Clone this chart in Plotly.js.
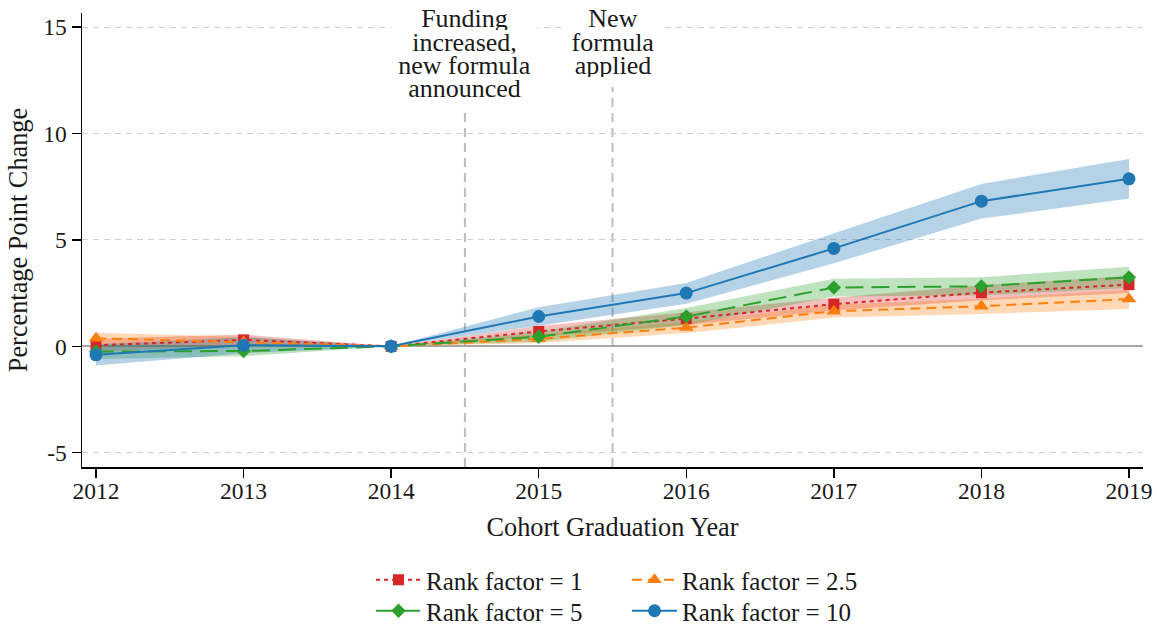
<!DOCTYPE html>
<html>
<head>
<meta charset="utf-8">
<script src="https://cdn.plot.ly/plotly-3.0.1.min.js"></script>
<style>html,body{margin:0;padding:0;background:#fff;}#chart{width:1157px;height:626px;}</style>
</head>
<body>
<div id="chart"></div>
<script>
// ---- data ----
const years = [2012, 2013, 2014, 2015, 2016, 2017, 2018, 2019];
const seriesNames = ['Rank factor = 1', 'Rank factor = 2.5', 'Rank factor = 5', 'Rank factor = 10'];

const rf1       = [0.05, 0.30, 0, 0.70, 1.30, 1.98, 2.52, 2.90];
const rf1Lower  = [-0.25, 0.05, 0, 0.45, 1.00, 1.68, 2.17, 2.50];
const rf1Upper  = [0.35, 0.55, 0, 0.95, 1.60, 2.28, 2.87, 3.30];

const rf25      = [0.38, 0.20, 0, 0.35, 0.88, 1.65, 1.88, 2.22];
const rf25Lower = [0.12, -0.05, 0, 0.15, 0.62, 1.35, 1.52, 1.75];
const rf25Upper = [0.64, 0.45, 0, 0.55, 1.14, 1.95, 2.24, 2.65];

const rf5       = [-0.25, -0.22, 0, 0.45, 1.40, 2.76, 2.82, 3.24];
const rf5Lower  = [-0.60, -0.47, 0, 0.22, 1.00, 2.34, 2.40, 2.74];
const rf5Upper  = [0.10, 0.03, 0, 0.68, 1.80, 3.18, 3.24, 3.74];

const rf10      = [-0.40, 0.05, 0, 1.40, 2.50, 4.60, 6.82, 7.87];
const rf10Lower = [-0.90, -0.33, 0, 0.97, 2.00, 3.90, 6.00, 6.94];
const rf10Upper = [0.10, 0.43, 0, 1.84, 2.98, 5.30, 7.63, 8.80];

const yTickVals = [-5, 0, 5, 10, 15];
const yTickText = ['-5', '0', '5', '10', '15'];

const eventX = [2014.5, 2015.5];
const eventLineTop = [11.15, 12.2];
const eventLabels = [
  ['Funding', 'increased,', 'new formula', 'announced'],
  ['New', 'formula', 'applied']
];

// ---- styles ----
const colors = ['#d62728', '#ff7f0e', '#2ca02c', '#1f77b4'];
const fills = ['rgba(214,39,40,0.30)', 'rgba(255,127,14,0.30)', 'rgba(44,160,44,0.30)', 'rgba(31,119,180,0.33)'];
const dashes = ['4px,4px', '10px,6px', '18px,8px', 'solid'];
const symbols = ['square', 'triangle-up', 'diamond', 'circle'];
const sizes = [11, 13, 11, 13];
const legends = ['legend', 'legend', 'legend2', 'legend2'];

const means = [rf1, rf25, rf5, rf10];
const lowers = [rf1Lower, rf25Lower, rf5Lower, rf10Lower];
const uppers = [rf1Upper, rf25Upper, rf5Upper, rf10Upper];

const FONT = 'Liberation Serif, Times New Roman, serif';
const TXT = '#1a1a1a';
const traces = [];
// confidence bands
for (let i = 0; i < 4; i++) {
  traces.push({
    x: years.concat(years.slice().reverse()),
    y: uppers[i].concat(lowers[i].slice().reverse()),
    type: 'scatter', mode: 'lines', fill: 'toself',
    fillcolor: fills[i], line: {width: 0, color: 'rgba(0,0,0,0)'},
    hoverinfo: 'skip', showlegend: false
  });
}
// point estimates
for (let i = 0; i < 4; i++) {
  traces.push({
    x: years, y: means[i], name: seriesNames[i],
    type: 'scatter', mode: 'lines+markers',
    line: {color: colors[i], width: 2, dash: dashes[i]},
    marker: {color: colors[i], symbol: symbols[i], size: sizes[i]},
    legend: legends[i]
  });
}

const shapes = eventX.map((x, i) => ({
  type: 'line', xref: 'x', yref: 'y', x0: x, x1: x, y0: -5.67, y1: eventLineTop[i],
  line: {color: '#bdbdbd', width: 2, dash: '9px,6px'}, layer: 'below'
}));

const lineCenters = [18.7, 42.0, 65.3, 88.7]; // px from top of page
const boxWidths = [145, 96];
const annotations = [];
eventLabels.forEach((lines, g) => {
  lines.forEach((t, k) => {
    annotations.push({
      text: t, xref: 'x', yref: 'paper', x: eventX[g],
      y: (467 - lineCenters[k]) / 454, xanchor: 'center', yanchor: 'middle',
      showarrow: false, bgcolor: '#ffffff', width: boxWidths[g], height: 23,
      borderpad: 0, font: {family: FONT, size: 26, color: TXT}
    });
  });
});

const legendCommon = {
  orientation: 'h', x: 0.2724, xanchor: 'left', yref: 'container', yanchor: 'middle',
  entrywidth: 196, entrywidthmode: 'pixels', bgcolor: 'rgba(0,0,0,0)',
  font: {family: FONT, size: 25, color: TXT}, itemwidth: 45, traceorder: 'normal'
};

const layout = {
  width: 1157, height: 626,
  margin: {l: 82, r: 14, t: 13, b: 159, autoexpand: false},
  paper_bgcolor: '#fff', plot_bgcolor: '#fff',
  font: {family: FONT, size: 23.5, color: TXT},
  xaxis: {
    range: [2011.905, 2019.095], tickvals: years, ticktext: years.map(String),
    ticks: 'outside', ticklen: 9, tickwidth: 1.5, tickcolor: '#000',
    showline: true, linecolor: '#000', linewidth: 1.5, showgrid: false, zeroline: false,
    tickfont: {family: FONT, size: 23.5, color: TXT}, ticklabelstandoff: -7,
    title: {text: 'Cohort Graduation Year', font: {family: FONT, size: 26.3, color: TXT}, standoff: 15},
    automargin: false, fixedrange: true
  },
  yaxis: {
    range: [-5.67, 15.66], tickvals: yTickVals, ticktext: yTickText,
    ticks: 'outside', ticklen: 9, tickwidth: 1.5, tickcolor: '#000',
    showline: true, linecolor: '#000', linewidth: 1.5,
    showgrid: true, gridcolor: '#d0d0d0', gridwidth: 1, griddash: '6px,5px',
    zeroline: true, zerolinecolor: '#a8a8a8', zerolinewidth: 2,
    tickfont: {family: FONT, size: 23.5, color: TXT},
    title: {text: 'Percentage Point Change', font: {family: FONT, size: 26.3, color: TXT}, standoff: 8},
    automargin: false, fixedrange: true
  },
  showlegend: true,
  legend: Object.assign({}, legendCommon, {y: 1 - 580 / 626}),
  legend2: Object.assign({}, legendCommon, {y: 1 - 611 / 626}),
  shapes: shapes,
  annotations: annotations
};

Plotly.newPlot('chart', traces, layout, {displayModeBar: false, staticPlot: true});
</script>
</body>
</html>
